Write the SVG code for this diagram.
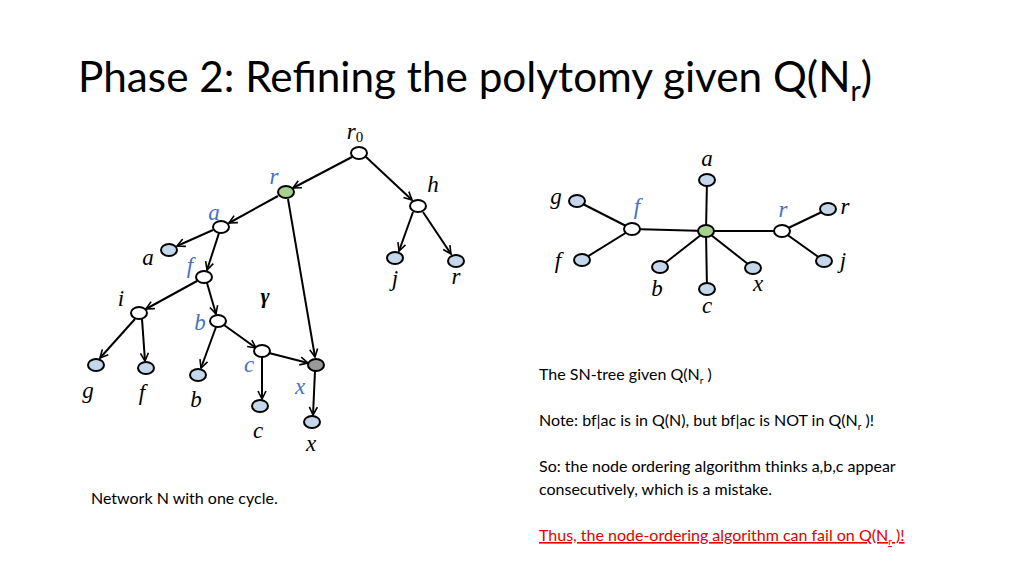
<svg xmlns="http://www.w3.org/2000/svg" width="1024" height="576" viewBox="0 0 1024 576">
<style>
.n{fill:#fff;stroke:#000;stroke-width:2}
.l{fill:#c5d7ea;stroke:#000;stroke-width:2}
.e{stroke:#000;stroke-width:2;fill:none}
.m{font-family:"Liberation Serif",serif;font-style:italic;font-size:23px;text-anchor:middle}
.bl{fill:#4472c4}
.t{font-family:Lato,"Liberation Sans",sans-serif;font-size:16px}
</style>
<defs><marker id="ar" viewBox="0 0 10 10" refX="9" refY="5" markerWidth="10" markerHeight="10" markerUnits="userSpaceOnUse" orient="auto"><path d="M1,1 L9,5 L1,9" fill="none" stroke="#000" stroke-width="1.6"/></marker></defs>
<rect width="1024" height="576" fill="#fff"/>
<text x="78" y="92" font-family="Lato,'Liberation Sans',sans-serif" font-size="42" textLength="794" lengthAdjust="spacingAndGlyphs">Phase 2: Refining the polytomy given Q(N<tspan font-size="28" dy="9">r</tspan><tspan dy="-9">)</tspan></text>
<g id="connectors" class="e" marker-end="url(#ar)">
<line x1="352" y1="157" x2="293" y2="188"/>
<line x1="366" y1="157" x2="412" y2="200"/>
<line x1="278" y1="196" x2="229" y2="223"/>
<line x1="288" y1="199" x2="315" y2="357"/>
<line x1="413" y1="212" x2="399" y2="251"/>
<line x1="423" y1="212" x2="451" y2="254"/>
<line x1="213" y1="230" x2="177" y2="246"/>
<line x1="219" y1="233" x2="207" y2="270"/>
<line x1="197" y1="281" x2="146" y2="309"/>
<line x1="207" y1="283" x2="216" y2="314"/>
<line x1="135" y1="319" x2="100" y2="358"/>
<line x1="142" y1="319" x2="145" y2="361"/>
<line x1="216" y1="327" x2="201" y2="368"/>
<line x1="224" y1="325" x2="256" y2="348"/>
<line x1="262" y1="357" x2="262" y2="399"/>
<line x1="269" y1="353" x2="308" y2="363"/>
<line x1="315" y1="371" x2="313" y2="415"/>
</g>
<g id="connectors2" class="e">
<line x1="706" y1="231" x2="707" y2="180"/>
<line x1="706" y1="231" x2="632" y2="229"/>
<line x1="706" y1="231" x2="782" y2="231"/>
<line x1="706" y1="231" x2="660" y2="267"/>
<line x1="706" y1="231" x2="707" y2="289"/>
<line x1="706" y1="231" x2="753" y2="268"/>
<line x1="632" y1="229" x2="577" y2="201"/>
<line x1="632" y1="229" x2="582" y2="260"/>
<line x1="782" y1="231" x2="828" y2="209"/>
<line x1="782" y1="231" x2="824" y2="261"/>
</g>
<g id="n-r0"><ellipse class="n" cx="359" cy="153" rx="8" ry="6"/><text class="m" x="355" y="139">r<tspan font-style="normal" font-size="15" dy="3">0</tspan></text></g>
<g id="n-r"><ellipse cx="286" cy="192" rx="8" ry="6" fill="#a9d18e" stroke="#000" stroke-width="2"/><text class="m bl" x="274" y="184">r</text></g>
<g id="n-h"><ellipse class="n" cx="418" cy="206" rx="8" ry="6"/><text class="m" x="433" y="192">h</text></g>
<g id="n-a"><ellipse class="n" cx="221" cy="227" rx="8" ry="6"/><text class="m bl" x="214" y="220">a</text></g>
<g id="leaf-a"><ellipse class="l" cx="169" cy="250" rx="8" ry="6"/><text class="m" x="148" y="265">a</text></g>
<g id="n-f"><ellipse class="n" cx="204" cy="277" rx="8" ry="6"/><text class="m bl" x="190" y="273">f</text></g>
<g id="n-i"><ellipse class="n" cx="139" cy="313" rx="8" ry="6"/><text class="m" x="121" y="306">i</text></g>
<g id="gamma"><text x="265" y="303" font-family="'Liberation Serif',serif" font-weight="bold" font-style="italic" font-size="22" text-anchor="middle">γ</text></g>
<g id="n-b"><ellipse class="n" cx="218" cy="321" rx="8" ry="6"/><text class="m bl" x="200" y="330">b</text></g>
<g id="n-c"><ellipse class="n" cx="262" cy="351" rx="8" ry="6"/><text class="m bl" x="249" y="372">c</text></g>
<g id="n-x"><ellipse cx="316" cy="365" rx="8" ry="6" fill="#999" stroke="#000" stroke-width="2"/><text class="m bl" x="300" y="394">x</text></g>
<g id="leaf-g"><ellipse class="l" cx="96" cy="365" rx="8" ry="6"/><text class="m" x="88" y="398">g</text></g>
<g id="leaf-f"><ellipse class="l" cx="146" cy="368" rx="8" ry="6"/><text class="m" x="142" y="400">f</text></g>
<g id="leaf-b"><ellipse class="l" cx="198" cy="375" rx="8" ry="6"/><text class="m" x="196" y="407">b</text></g>
<g id="leaf-c"><ellipse class="l" cx="260" cy="406" rx="8" ry="6"/><text class="m" x="258" y="438">c</text></g>
<g id="leaf-x"><ellipse class="l" cx="312" cy="422" rx="8" ry="6"/><text class="m" x="311" y="451">x</text></g>
<g id="leaf-j"><ellipse class="l" cx="395" cy="258" rx="8" ry="6"/><text class="m" x="395" y="286">j</text></g>
<g id="leaf-r"><ellipse class="l" cx="456" cy="261" rx="8" ry="6"/><text class="m" x="456" y="284">r</text></g>

<g id="s-center"><ellipse cx="706" cy="231" rx="8" ry="6" fill="#a9d18e" stroke="#000" stroke-width="2"/></g>
<g id="s-f"><ellipse class="n" cx="632" cy="229" rx="8" ry="6"/><text class="m bl" x="637" y="214">f</text></g>
<g id="s-r"><ellipse class="n" cx="782" cy="231" rx="8" ry="6"/><text class="m bl" x="783" y="217">r</text></g>
<g id="s-a"><ellipse class="l" cx="707" cy="180" rx="8" ry="6"/><text class="m" x="707" y="166">a</text></g>
<g id="s-g"><ellipse class="l" cx="577" cy="201" rx="8" ry="6"/><text class="m" x="556" y="204">g</text></g>
<g id="s-fl"><ellipse class="l" cx="582" cy="260" rx="8" ry="6"/><text class="m" x="558" y="268">f</text></g>
<g id="s-b"><ellipse class="l" cx="660" cy="267" rx="8" ry="6"/><text class="m" x="657" y="296">b</text></g>
<g id="s-c"><ellipse class="l" cx="707" cy="289" rx="8" ry="6"/><text class="m" x="707" y="313">c</text></g>
<g id="s-x"><ellipse class="l" cx="753" cy="268" rx="8" ry="6"/><text class="m" x="758" y="291">x</text></g>
<g id="s-rl"><ellipse class="l" cx="828" cy="209" rx="8" ry="6"/><text class="m" x="845" y="214">r</text></g>
<g id="s-j"><ellipse class="l" cx="824" cy="261" rx="8" ry="6"/><text class="m" x="843" y="268">j</text></g>

<g id="texts" class="t">
<text x="539" y="380">The SN-tree given Q(N<tspan font-size="10" dy="4">r</tspan><tspan dy="-4"> )</tspan></text>
<text x="539" y="426">Note: bf|ac is in Q(N), but bf|ac is NOT in Q(N<tspan font-size="10" dy="4">r</tspan><tspan dy="-4"> )!</tspan></text>
<text x="539" y="472">So: the node ordering algorithm thinks a,b,c appear</text>
<text x="539" y="495">consecutively, which is a mistake.</text>
<text x="539" y="541" fill="#e00000" text-decoration="underline">Thus, the node-ordering algorithm can fail on Q(N<tspan font-size="10" dy="4">r</tspan><tspan dy="-4"> )!</tspan></text>
<text x="91" y="504">Network N with one cycle.</text>
</g>
</svg>
